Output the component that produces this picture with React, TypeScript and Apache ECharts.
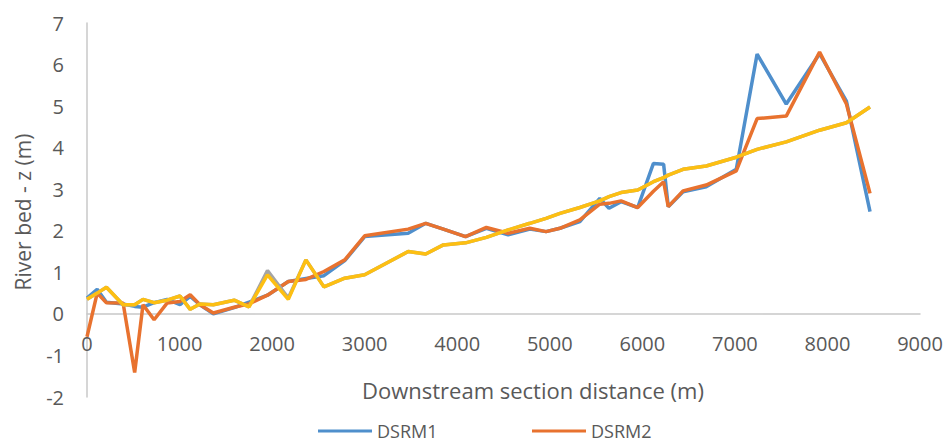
import React, { useEffect, useRef } from "react";
import * as echarts from "echarts";

const distances = [0, 110, 210, 390, 515, 605, 725, 865, 1005, 1115, 1220, 1365, 1590, 1750, 1950, 2175, 2365, 2560, 2785, 3000, 3470, 3660, 3850, 4090, 4315, 4550, 4785, 4960, 5110, 5325, 5540, 5640, 5770, 5950, 6120, 6230, 6280, 6440, 6690, 7015, 7240, 7555, 7915, 8205, 8460];

const dsrm1 = [0.38, 0.59, 0.28, 0.24, 0.18, 0.16, 0.27, 0.35, 0.22, 0.42, 0.22, 0.0, 0.15, 0.28, 0.45, 0.78, 0.85, 0.92, 1.28, 1.86, 1.94, 2.18, 2.04, 1.86, 2.06, 1.9, 2.04, 1.98, 2.06, 2.22, 2.78, 2.54, 2.7, 2.56, 3.62, 3.6, 2.58, 2.94, 3.06, 3.48, 6.25, 5.05, 6.26, 5.12, 2.46];

const dsrm2 = [-0.55, 0.5, 0.27, 0.26, -1.41, 0.22, -0.14, 0.26, 0.3, 0.46, 0.22, 0.02, 0.16, 0.24, 0.45, 0.78, 0.83, 1.02, 1.3, 1.88, 2.04, 2.18, 2.04, 1.86, 2.08, 1.94, 2.06, 1.98, 2.06, 2.26, 2.64, 2.66, 2.72, 2.56, 2.95, 3.18, 2.58, 2.96, 3.1, 3.44, 4.7, 4.76, 6.3, 5.05, 2.9];

const series3 = [0.35, 0.5, 0.64, 0.22, 0.22, 0.35, 0.27, 0.33, 0.43, 0.11, 0.24, 0.22, 0.33, 0.17, 1.04, 0.38, 1.3, 0.65, 0.86, 0.94, 1.5, 1.44, 1.66, 1.71, 1.84, 2.02, 2.18, 2.3, 2.42, 2.56, 2.72, 2.82, 2.92, 2.98, 3.18, 3.28, 3.34, 3.48, 3.56, 3.77, 3.96, 4.14, 4.42, 4.6, 4.98];

const series4 = [0.35, 0.5, 0.64, 0.22, 0.22, 0.35, 0.27, 0.33, 0.43, 0.11, 0.24, 0.22, 0.33, 0.17, 0.94, 0.35, 1.3, 0.65, 0.86, 0.94, 1.5, 1.44, 1.66, 1.71, 1.84, 2.02, 2.18, 2.3, 2.42, 2.56, 2.72, 2.82, 2.92, 2.98, 3.18, 3.28, 3.34, 3.48, 3.56, 3.77, 3.96, 4.14, 4.42, 4.6, 4.98];

const seriesNames = ["DSRM1", "DSRM2", "Series3", "Series4"];
const legendNames = ["DSRM1", "DSRM2"];
const legendLefts = [318, 532];
const colors = ["#4F8FCC", "#E8722F", "#A5A5A5", "#FDBF12"];

const xTitle = "Downstream section distance (m)";
const yTitle = "River bed - z (m)";

const pairs = (ys: number[]) => distances.map((x, i) => [x, ys[i]]);

export default function App() {
  const ref = useRef<HTMLDivElement>(null);
  useEffect(() => {
    if (!ref.current) return;
    const chart = echarts.init(ref.current, undefined, { renderer: "svg" });
    const font = "'Open Sans', sans-serif";
    const textColor = "#595959";
    const data = [dsrm1, dsrm2, series3, series4];
    chart.setOption({
      animation: false,
      color: colors,
      grid: { left: 87, right: 26, top: 23, height: 374, containLabel: false },
      legend: legendNames.map((n, i) => ({
        data: [n],
        left: legendLefts[i],
        top: 421,
        padding: 0,
        icon: "rect",
        itemWidth: 54,
        itemHeight: 3,
        itemGap: 0,
        textStyle: { color: textColor, fontSize: 18, lineHeight: 20, fontFamily: font },
      })),
      xAxis: {
        type: "value",
        min: 0,
        max: 9000,
        interval: 1000,
        axisLine: { onZero: true, lineStyle: { color: "#C8C8C8", width: 1.5 } },
        axisTick: { show: false },
        splitLine: { show: false },
        axisLabel: {
          color: textColor,
          fontSize: 20,
          fontFamily: font,
          margin: -64,
          formatter: (v: number) => String(v),
        },
      },
      yAxis: {
        type: "value",
        min: -2,
        max: 7,
        interval: 1,
        axisLine: { show: true, lineStyle: { color: "#C8C8C8", width: 1.5 } },
        axisTick: { show: false },
        splitLine: { show: false },
        axisLabel: { color: textColor, fontSize: 20, fontFamily: font, margin: 23 },
      },
      graphic: [
        {
          type: "text",
          x: 533,
          y: 390,
          style: {
            text: xTitle,
            fill: textColor,
            font: `22px ${font}`,
            textAlign: "center",
            textVerticalAlign: "middle",
          },
        },
        {
          type: "text",
          x: 23,
          y: 212,
          rotation: Math.PI / 2,
          style: {
            text: yTitle,
            fill: textColor,
            font: `21px ${font}`,
            textAlign: "center",
            textVerticalAlign: "middle",
          },
        },
      ],
      series: data.map((ys, i) => ({
        name: seriesNames[i],
        type: "line",
        data: pairs(ys),
        showSymbol: false,
        symbol: "none",
        lineStyle: { width: 3.5, color: colors[i] },
        z: 2 + i,
      })),
    });
    return () => chart.dispose();
  }, []);
  return (
    <div
      ref={ref}
      style={{ position: "fixed", left: 0, top: 0, width: 946, height: 470, background: "#fff" }}
    />
  );
}
